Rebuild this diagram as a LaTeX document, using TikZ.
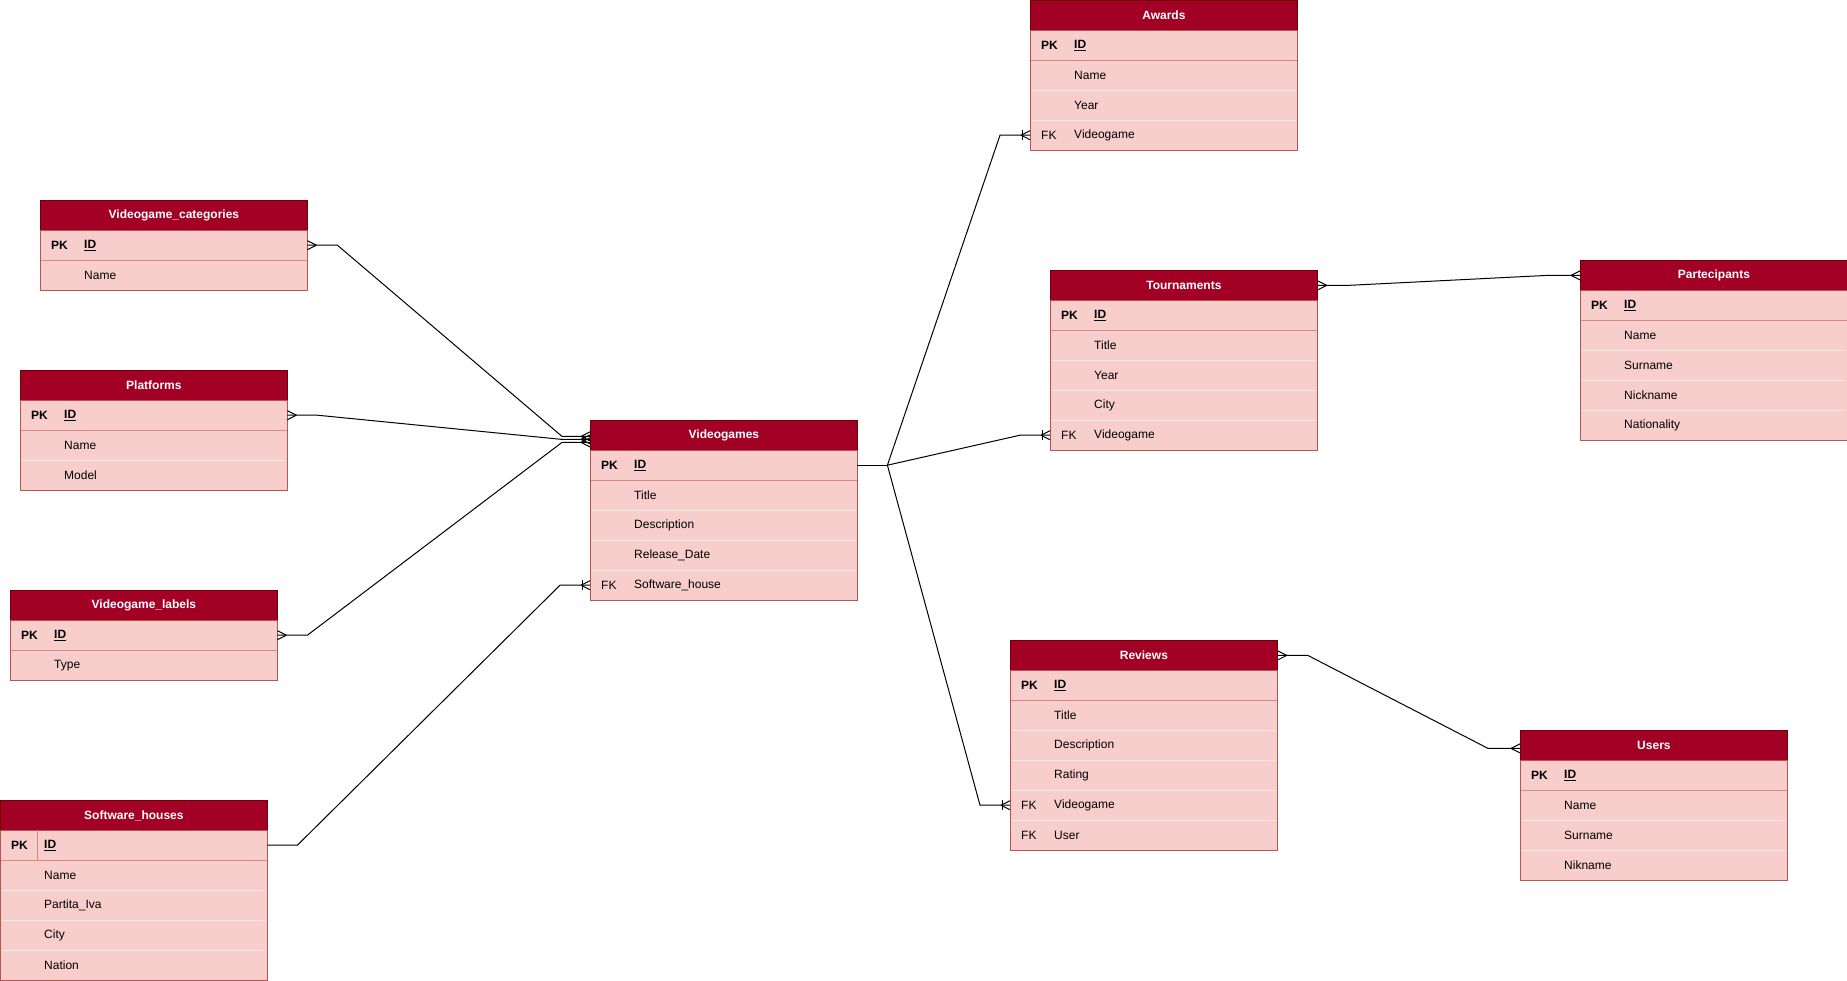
\documentclass[tikz,border=0pt]{standalone}
\usepackage{fontspec}
\setmainfont{Liberation Sans}
\usetikzlibrary{calc}
\definecolor{hdrfill}{HTML}{A20025}
\definecolor{hdrdraw}{HTML}{6F0000}
\definecolor{rowfill}{HTML}{F8CECC}
\definecolor{rowdraw}{HTML}{B85450}
\definecolor{pksep}{HTML}{DA8783}
\definecolor{lightsep}{HTML}{FCE7E6}
\tikzset{
  hdr/.style={rectangle, fill=hdrfill, draw=hdrdraw, line width=0.8pt,
    minimum width=267pt, minimum height=30pt, inner sep=0pt, text=white,
    font=\fontsize{12}{14}\selectfont\bfseries, anchor=north west},
  rowbox/.style={rectangle, fill=rowfill, minimum width=267pt,
    minimum height=30pt, inner sep=0pt, anchor=north west},
  celltxt/.style={anchor=west, inner sep=0pt, font=\fontsize{12}{14}\selectfont},
  lightline/.style={draw=lightsep, line width=0.8pt},
  pkline/.style={draw=pksep, line width=0.8pt},
  border/.style={draw=rowdraw, line width=0.8pt},
  conn/.style={draw=black, line width=1pt},
}
% #1 name, #2 x, #3 y, #4 title, #5 number of rows, #6 key/field list of non-PK rows
\newcommand{\ertable}[6]{%
  \node[rowbox] (#1-1) at (#2,#3+30) {};
  \node[celltxt, font=\fontsize{12}{14}\selectfont\bfseries] at ($(#1-1.west)+(11,0)$) {PK};
  \node[celltxt, font=\fontsize{12}{14}\selectfont\bfseries] at ($(#1-1.west)+(44,0)$) {\underline{ID}};
  \foreach \k/\f [count=\i from 2] in {#6} {
    \node[rowbox] (#1-\i) at (#2,#3+30*\i) {};
    \node[celltxt] at ($(#1-\i.west)+(11,0)$) {\k};
    \node[celltxt] at ($(#1-\i.west)+(44,0)$) {\f};
    \draw[lightline] ($(#1-\i.north west)+(1,0)$) -- ($(#1-\i.north east)+(-1,0)$);
  }
  \draw[pkline] (#1-1.south west) -- (#1-1.south east);
  \node[hdr] (#1) at (#2,#3) {#4};
  \draw[border] (#1.south west) rectangle (#1-#5.south east);
}
% crow's foot at coordinate #1; #2 = +1 line leaves to the right, -1 to the left
\newcommand{\crowfoot}[2]{%
  \draw[conn] ($(#1)+(#2*9,0)$) -- ($(#1)+(0,-4.5)$)
              ($(#1)+(#2*9,0)$) -- ($(#1)+(0,4.5)$);
}
\newcommand{\onebar}[2]{%
  \draw[conn] ($(#1)+(#2*8,-5)$) -- ($(#1)+(#2*8,5)$);
}
\begin{document}
\begin{tikzpicture}[x=1pt,y=-1pt]
\useasboundingbox (0,0) rectangle (1847,981);
\fill[white] (0,0) rectangle (1847,981);

\ertable{cat}{40}{200}{Videogame\_categories}{2}{/Name}
\ertable{plat}{20}{370}{Platforms}{3}{/Name,/Model}
\ertable{lab}{10}{590}{Videogame\_labels}{2}{/Type}
\ertable{sh}{0}{800}{Software\_houses}{5}{/Name,/Partita\_Iva,/City,/Nation}
\draw[pkline] ($(sh-1.north west)+(37,0)$) -- ($(sh-1.south west)+(37,0)$);
\ertable{vg}{590}{420}{Videogames}{5}{/Title,/Description,/Release\_Date,FK/Software\_house}
\ertable{aw}{1030}{0}{Awards}{4}{/Name,/Year,FK/Videogame}
\ertable{tour}{1050}{270}{Tournaments}{5}{/Title,/Year,/City,FK/Videogame}
\ertable{part}{1580}{260}{Partecipants}{5}{/Name,/Surname,/Nickname,/Nationality}
\ertable{rev}{1010}{640}{Reviews}{6}{/Title,/Description,/Rating,FK/Videogame,FK/User}
\ertable{usr}{1520}{730}{Users}{4}{/Name,/Surname,/Nikname}

% left side connectors
\coordinate (e1) at ($(vg.west)+(0,1)$);
\coordinate (e2) at ($(vg.west)+(0,4)$);
\coordinate (e3) at ($(vg.west)+(0,7)$);
\draw[conn] (cat-1.east) -- ++(30,0) -- ($(e1)+(-28,0)$) -- (e1);
\draw[conn] (plat-1.east) -- ++(30,0) -- ($(e2)+(-28,0)$) -- (e2);
\draw[conn] (lab-1.east) -- ++(30,0) -- ($(e3)+(-28,0)$) -- (e3);
\crowfoot{cat-1.east}{1}
\crowfoot{plat-1.east}{1}
\crowfoot{lab-1.east}{1}
\crowfoot{e1}{-1}
\crowfoot{e2}{-1}
\crowfoot{e3}{-1}

\draw[conn] (sh-1.east) -- ++(30,0) -- ($(vg-5.west)+(-30,0)$) -- (vg-5.west);
\crowfoot{vg-5.west}{-1}
\onebar{vg-5.west}{-1}

% right side connectors
\coordinate (hub) at ($(vg-1.east)+(30,0)$);
\draw[conn] (vg-1.east) -- (hub);
\draw[conn] (hub) -- ($(aw-4.west)+(-30,0)$) -- (aw-4.west);
\draw[conn] (hub) -- ($(tour-5.west)+(-30,0)$) -- (tour-5.west);
\draw[conn] (hub) -- ($(rev-5.west)+(-30,0)$) -- (rev-5.west);
\crowfoot{aw-4.west}{-1}
\onebar{aw-4.west}{-1}
\crowfoot{tour-5.west}{-1}
\onebar{tour-5.west}{-1}
\crowfoot{rev-5.west}{-1}
\onebar{rev-5.west}{-1}

\draw[conn] (tour.east) -- ++(30,0) -- ($(part.west)+(-33,0)$) -- (part.west);
\crowfoot{tour.east}{1}
\crowfoot{part.west}{-1}

\coordinate (e4) at ($(usr.west)+(0,3)$);
\draw[conn] (rev.east) -- ++(30,0) -- ($(e4)+(-32,0)$) -- (e4);
\crowfoot{rev.east}{1}
\crowfoot{e4}{-1}
\end{tikzpicture}
\end{document}
